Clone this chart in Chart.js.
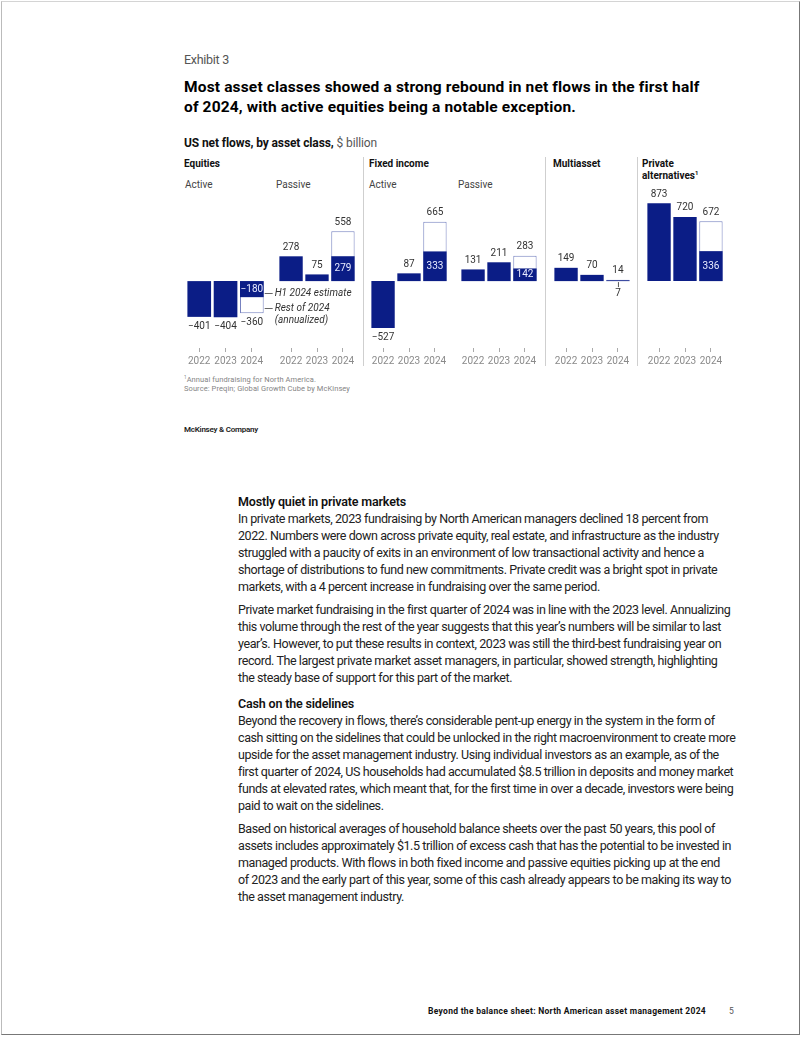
<!DOCTYPE html>
<html><head><meta charset="utf-8">
<script src="https://cdn.jsdelivr.net/npm/chart.js@4.4.1/dist/chart.umd.min.js"></script>
<style>
html,body{margin:0;padding:0;background:#fff}
body{width:802px;height:1037px;position:relative;overflow:hidden;font-family:Roboto,"Liberation Sans",sans-serif;color:#222}
.frame{position:absolute;left:1px;top:1px;width:797px;height:1032px;border:1px solid;border-color:#d4d4d4 #777 #777 #bbb}
.a{position:absolute;white-space:nowrap;width:max-content}
canvas{position:absolute}
.sep{position:absolute;width:1px;background:#cfcfcf;top:157px;height:209px}
.hdr{position:absolute;font-size:10px;line-height:12px;font-weight:700;color:#111;white-space:nowrap}
.sub{position:absolute;font-size:10px;line-height:12px;color:#444;top:179px;white-space:nowrap}
.body{position:absolute;left:238px;top:493px;font-size:12.5px;line-height:17px;color:#222}
.body div{white-space:nowrap;width:max-content}
.body .h{font-weight:600;color:#111}
.body .p{margin-top:6px}
.body .h2{margin-top:9px}
sup{font-size:0.6em;line-height:0;vertical-align:0.6em}
</style>
</head>
<body>
<div class="frame"></div>

<div class="a" id="exh" style="left:184px;top:52px;font-size:12.5px;line-height:16px;color:#555">Exhibit 3</div>
<div class="a" id="t1" style="left:184px;top:77px;font-size:15.5px;line-height:20px;font-weight:700;color:#000">Most asset classes showed a strong rebound in net flows in the first half</div>
<div class="a" id="t2" style="left:184px;top:97px;font-size:15.5px;line-height:20px;font-weight:700;color:#000">of 2024, with active equities being a notable exception.</div>
<div class="a" id="subt" style="left:184px;top:135px;font-size:12px;line-height:16px;color:#111"><b>US net flows, by asset class,</b> <span style="color:#555">$ billion</span></div>

<div class="hdr" style="left:184px;top:158px">Equities</div>
<div class="hdr" style="left:369px;top:158px">Fixed income</div>
<div class="hdr" style="left:553px;top:158px">Multiasset</div>
<div class="hdr" style="left:642px;top:158px">Private<br>alternatives<sup>1</sup></div>
<div class="sub" style="left:185px">Active</div>
<div class="sub" style="left:276px">Passive</div>
<div class="sub" style="left:369px">Active</div>
<div class="sub" style="left:458px">Passive</div>

<div class="sep" style="left:363px"></div>
<div class="sep" style="left:545px"></div>
<div class="sep" style="left:637px"></div>

<canvas id="cEqA" width="180" height="185" style="left:185px;top:183px;width:180px;height:185px"></canvas>
<canvas id="cEqP" width="80" height="185" style="left:277px;top:183px;width:80px;height:185px"></canvas>
<canvas id="cFiA" width="80" height="185" style="left:369px;top:183px;width:80px;height:185px"></canvas>
<canvas id="cFiP" width="80" height="185" style="left:459px;top:183px;width:80px;height:185px"></canvas>
<canvas id="cMul" width="80" height="185" style="left:552px;top:183px;width:80px;height:185px"></canvas>
<canvas id="cPri" width="80" height="185" style="left:645px;top:183px;width:80px;height:185px"></canvas>

<div class="a" style="left:184px;top:375px;font-size:7.5px;line-height:9px;color:#858585">
<div id="fn1" style="width:max-content"><sup>1</sup>Annual fundraising for North America.</div>
<div id="fn2" style="width:max-content">Source: Preqin; Global Growth Cube by McKinsey</div>
</div>
<div class="a" id="mck" style="left:184px;top:425px;font-size:8px;line-height:10px;font-weight:600;color:#222">McKinsey &amp; Company</div>

<div class="body">
<div class="h" id="bh1">Mostly quiet in private markets</div>
<div class="l" id="bl1">In private markets, 2023 fundraising by North American managers declined 18 percent from</div>
<div class="l">2022. Numbers were down across private equity, real estate, and infrastructure as the industry</div>
<div class="l">struggled with a paucity of exits in an environment of low transactional activity and hence a</div>
<div class="l">shortage of distributions to fund new commitments. Private credit was a bright spot in private</div>
<div class="l">markets, with a 4 percent increase in fundraising over the same period.</div>
<div class="l p">Private market fundraising in the first quarter of 2024 was in line with the 2023 level. Annualizing</div>
<div class="l">this volume through the rest of the year suggests that this year’s numbers will be similar to last</div>
<div class="l">year’s. However, to put these results in context, 2023 was still the third-best fundraising year on</div>
<div class="l">record. The largest private market asset managers, in particular, showed strength, highlighting</div>
<div class="l">the steady base of support for this part of the market.</div>
<div class="h h2">Cash on the sidelines</div>
<div class="l">Beyond the recovery in flows, there’s considerable pent-up energy in the system in the form of</div>
<div class="l">cash sitting on the sidelines that could be unlocked in the right macroenvironment to create more</div>
<div class="l">upside for the asset management industry. Using individual investors as an example, as of the</div>
<div class="l">first quarter of 2024, US households had accumulated $8.5 trillion in deposits and money market</div>
<div class="l">funds at elevated rates, which meant that, for the first time in over a decade, investors were being</div>
<div class="l">paid to wait on the sidelines.</div>
<div class="l p">Based on historical averages of household balance sheets over the past 50 years, this pool of</div>
<div class="l">assets includes approximately $1.5 trillion of excess cash that has the potential to be invested in</div>
<div class="l">managed products. With flows in both fixed income and passive equities picking up at the end</div>
<div class="l">of 2023 and the early part of this year, some of this cash already appears to be making its way to</div>
<div class="l">the asset management industry.</div>
</div>

<div class="a" id="foot" style="left:428px;top:1006px;font-size:8.5px;line-height:10px;font-weight:700;color:#111">Beyond the balance sheet: North American asset management 2024</div>
<div class="a" style="left:729px;top:1006px;font-size:8.5px;line-height:10px;color:#555">5</div>

<script>
// ---- Data ($ billion) ----
const years = ['2022', '2023', '2024'];
// 2022, 2023 full-year net flows; 2024 = H1 2024 estimate
const eqActive   = [-401, -404, -180];
const eqPassive  = [278, 75, 279];
const fiActive   = [-527, 87, 333];
const fiPassive  = [131, 211, 142];
const multiasset = [149, 70, 7];
const privateAlt = [873, 720, 336];
// Full-year 2024 (H1 estimate + rest of 2024 annualized), same group order
const full2024 = [-360, 558, 665, 283, 14, 672];
const noteH1 = 'H1 2024 estimate';
const noteRest = ['Rest of 2024', '(annualized)'];

const NAVY = '#0b1d86', OUTLINE = '#7682c0';
const Y_MIN = -750, Y_MAX = 1100;
Chart.defaults.font.family = 'Roboto, "Liberation Sans", sans-serif';
const fmt = v => v < 0 ? '\u2212' + Math.abs(v) : String(v);

const labelPlugin = {
  id: 'valueLabels',
  afterDatasetsDraw(chart) {
    const ctx = chart.ctx;
    const h1 = chart.data.datasets[0].data, full = chart.data.datasets[1].data;
    const m0 = chart.getDatasetMeta(0), m1 = chart.getDatasetMeta(1);
    ctx.save();
    ctx.font = '10px ' + Chart.defaults.font.family;
    ctx.textAlign = 'center'; ctx.textBaseline = 'middle';
    m0.data.forEach((bar, i) => {
      const v = h1[i];
      if (full[i] == null) {
        ctx.fillStyle = '#333';
        ctx.fillText(fmt(v), bar.x, v >= 0 ? bar.y - 9 : bar.y + 9.5);
      } else if (Math.abs(bar.base - bar.y) > 12) {
        ctx.fillStyle = '#e8ebff';
        ctx.fillText(fmt(v), bar.x, (bar.y + bar.base) / 2);
      } else {
        ctx.strokeStyle = '#555'; ctx.lineWidth = 1;
        ctx.beginPath(); ctx.moveTo(bar.x + 0.5, bar.base + 1); ctx.lineTo(bar.x + 0.5, bar.base + 6); ctx.stroke();
        ctx.fillStyle = '#333';
        ctx.fillText(fmt(v), bar.x, bar.base + 12);
      }
    });
    m1.data.forEach((bar, i) => {
      const v = full[i];
      if (v == null) return;
      ctx.fillStyle = '#333';
      ctx.fillText(fmt(v), bar.x, v >= 0 ? bar.y - 9 : bar.y + 9.5);
    });
    ctx.restore();
  }
};

const notePlugin = {
  id: 'notes',
  afterDatasetsDraw(chart) {
    const ctx = chart.ctx;
    const b0 = chart.getDatasetMeta(0).data[2], b1 = chart.getDatasetMeta(1).data[2];
    const xr = b1.x + b1.width / 2;
    const y1 = (b0.y + b0.base) / 2 + 4;
    const y2 = (b1.y + b0.y) / 2 + 3;
    ctx.save();
    ctx.strokeStyle = '#666'; ctx.lineWidth = 1;
    ctx.beginPath();
    ctx.moveTo(xr + 1, Math.round(y1) + 0.5); ctx.lineTo(xr + 9, Math.round(y1) + 0.5);
    ctx.moveTo(xr + 1, Math.round(y2) + 0.5); ctx.lineTo(xr + 9, Math.round(y2) + 0.5);
    ctx.stroke();
    ctx.fillStyle = '#333';
    ctx.font = 'italic 10px ' + Chart.defaults.font.family;
    ctx.textAlign = 'left'; ctx.textBaseline = 'middle';
    ctx.fillText(noteH1, xr + 11, y1);
    ctx.fillText(noteRest[0], xr + 11, y2);
    ctx.fillText(noteRest[1], xr + 11, y2 + 12);
    ctx.restore();
  }
};

function makeChart(id, h1, full, withNotes) {
  return new Chart(document.getElementById(id), {
    type: 'bar',
    data: {
      labels: years,
      datasets: [
        { label: 'Net flows (2024: H1 estimate)', data: h1, backgroundColor: NAVY, borderWidth: 0,
          order: 1, grouped: false, barPercentage: 0.9, categoryPercentage: 1 },
        { label: 'Full-year 2024', data: [null, null, full], backgroundColor: '#fff', borderColor: OUTLINE,
          borderWidth: 1, borderSkipped: false, order: 2, grouped: false, barPercentage: 0.9, categoryPercentage: 1 }
      ]
    },
    options: {
      responsive: false, animation: false, events: [],
      layout: { padding: { left: 0, right: withNotes ? 100 : 0, top: 0, bottom: 0 } },
      plugins: { legend: { display: false }, tooltip: { enabled: false } },
      scales: {
        x: {
          grid: { display: true, drawOnChartArea: false, drawTicks: true, tickLength: 4, offset: false, color: '#aaa' },
          border: { display: false },
          ticks: { color: '#8a8a8a', font: { size: 10 }, padding: 3, maxRotation: 0 },
          afterFit(s) { s.height = 20; }
        },
        y: { display: false, min: Y_MIN, max: Y_MAX }
      }
    },
    plugins: withNotes ? [labelPlugin, notePlugin] : [labelPlugin]
  });
}

makeChart('cEqA', eqActive, full2024[0], true);
makeChart('cEqP', eqPassive, full2024[1], false);
makeChart('cFiA', fiActive, full2024[2], false);
makeChart('cFiP', fiPassive, full2024[3], false);
makeChart('cMul', multiasset, full2024[4], false);
makeChart('cPri', privateAlt, full2024[5], false);

// ---- fit text widths to the original typesetting ----
function lsFor(el, target) {
  el.style.letterSpacing = '0px';
  const w = el.getBoundingClientRect().width;
  return (target - w) / [...el.textContent].length;
}
function apply(els, ls) { els.forEach(e => e.style.letterSpacing = ls + 'px'); }
const $ = id => document.getElementById(id);
apply([$('exh')], lsFor($('exh'), 45));
apply([$('t1'), $('t2')], lsFor($('t1'), 515));
apply([$('subt')], lsFor($('subt'), 193));
apply([$('fn1'), $('fn2')], lsFor($('fn2'), 166));
apply([$('mck')], lsFor($('mck'), 74));
apply([$('foot')], lsFor($('foot'), 278));
apply([...document.querySelectorAll('.body .l')], lsFor($('bl1'), 470));
apply([...document.querySelectorAll('.body .h')], lsFor($('bh1'), 168));
</script>
</body></html>
